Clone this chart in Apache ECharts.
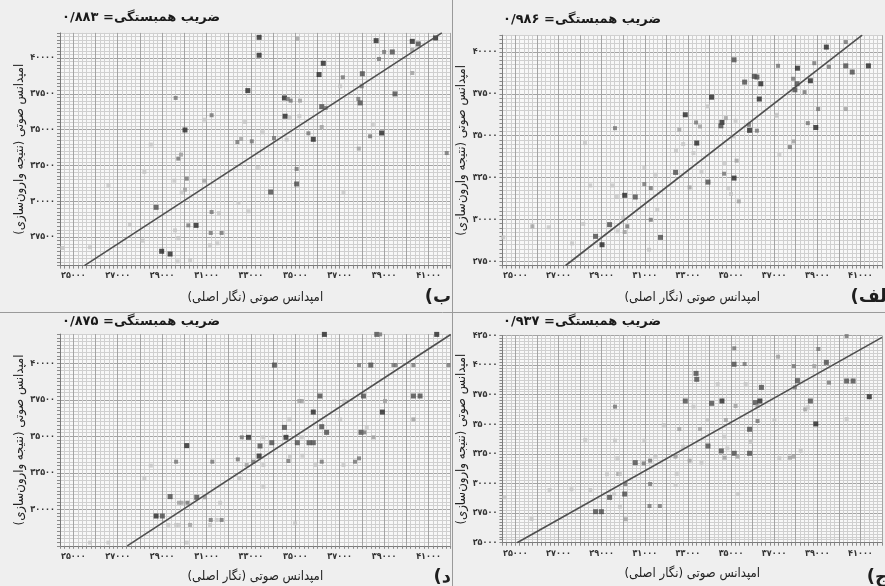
<!DOCTYPE html>
<html><head><meta charset="utf-8">
<script src="https://cdn.jsdelivr.net/npm/echarts@6/dist/echarts.min.js"></script>
<style>html,body{margin:0;padding:0;background:#efefef}#c{width:885px;height:586px}</style>
</head><body><div id="c"></div>
<script>
// ---- data ----
const xLabelValues = [25000, 27000, 29000, 31000, 33000, 35000, 37000, 39000, 41000];
const yLabelsB = [27500, 30000, 32500, 35000, 37500, 40000];
const yLabelsAlef = [27500, 30000, 32500, 35000, 37500, 40000];
const yLabelsDal = [30000, 32500, 35000, 37500, 40000];
const yLabelsJim = [25000, 27500, 30000, 32500, 35000, 37500, 40000, 42500];
const corrB = '۰/۸۸۳', corrAlef = '۰/۹۸۶', corrDal = '۰/۸۷۵', corrJim = '۰/۹۳۷';
const panelLabels = ['ب)', 'الف)', 'د)', 'ج)'];
// [x, y, shade 0=dark .. 4=light]
const pointsB = [[33370,41440,0],[35090,41350,3],[38640,41210,0],[40270,41160,0],[40540,40980,1],[41320,41400,0],
[33370,40190,0],[39000,40420,2],[39370,40420,1],[40270,40560,3],[38770,39930,2],[36260,39630,0],
[36070,38840,0],[37140,38650,2],[38020,38900,1],[40270,38950,3],[32860,37720,0],[37020,38020,4],
[37990,38020,2],[39490,37490,1],[37840,37140,2],[37920,36860,1],[34510,37210,0],[34660,37140,2],
[34790,37020,2],[35210,37020,3],[29610,37210,2],[36190,36600,1],[36370,36510,2],[31230,36000,2],
[34540,35930,0],[34760,35860,4],[35180,35930,4],[32740,35530,4],[30930,35690,4],[28490,33950,4],
[30030,34970,0],[32390,34130,2],[32560,34340,3],[33040,34180,2],[33520,34810,4],[34040,34410,2],
[34610,34300,4],[35590,34740,2],[35810,34320,0],[36190,35180,3],[38370,34530,2],[38890,34760,0],
[38490,35340,4],[37860,33670,3],[41820,33360,2],[29730,32970,2],[29850,33250,3],[28200,32040,4],
[26580,31110,4],[29550,31430,4],[30110,31570,2],[30030,30800,3],[29880,30620,4],[30900,31430,3],
[35060,32250,2],[35060,31200,1],[33890,30640,1],[33310,32320,4],[37170,30620,4],[28730,29570,1],
[31230,29240,2],[31560,29170,4],[32440,29870,4],[32890,29290,4],[30180,28310,2],[30530,28310,0],
[27550,28360,4],[29580,27960,4],[31190,27780,2],[31680,27780,2],[29730,27430,4],[31160,26920,4],
[31490,27060,4],[28980,26500,0],[29360,26310,0],[30260,25890,4],[29700,25800,4],[25750,26780,4],
[24500,26730,4],[28110,27240,4]];
const pointsAlef = [[39420,40290,0],[40320,40590,2],[35140,39530,1],[37180,39170,2],[38080,39030,0],[38860,39330,2],
[39540,39110,2],[40320,39170,1],[40620,38800,1],[41370,39170,0],[35630,38200,1],[36080,38540,1],
[36200,38500,1],[36380,38100,0],[37880,38400,2],[38060,38100,1],[37960,37740,1],[38680,38280,0],
[38410,37600,2],[34100,37300,0],[36310,37190,0],[39040,36590,2],[40320,36590,3],[32880,36250,0],
[33930,36750,4],[37090,36190,4],[38560,35750,2],[38930,35490,0],[34760,36050,3],[34580,35790,0],
[34530,35590,1],[35210,35890,4],[35830,35650,2],[35860,35320,0],[36200,35300,2],[33380,35790,2],
[33560,35550,3],[32600,35360,3],[29620,35450,2],[33410,34560,0],[35110,34960,4],[37730,34320,2],
[37910,34660,3],[28230,34560,4],[32780,34500,4],[32450,34100,4],[33260,33960,4],[37240,33860,4],
[32430,32810,1],[33630,32830,4],[34680,32730,2],[35140,32470,0],[35260,33510,3],[34700,33370,4],
[33930,32230,1],[30980,32110,2],[31280,31870,2],[33080,31910,3],[31500,32670,4],[28470,32030,4],
[29500,32030,4],[30980,33070,4],[30070,31440,0],[30560,31340,1],[29700,31340,4],[34880,31870,4],
[35000,31520,4],[35360,31080,3],[31580,30580,4],[31280,29980,2],[31730,28930,1],[31200,28190,4],
[29370,29690,1],[30190,29590,2],[30070,29250,3],[29740,29290,4],[30000,30080,4],[28720,28990,1],
[29020,28490,0],[25790,29590,3],[26550,29530,4],[27630,28570,4],[24440,28930,4],[28150,29730,4],
[37130,36250,4]];
const pointsDal = [[36310,41980,0],[38670,41980,1],[38820,41980,2],[41370,41980,0],[34060,39880,1],[37870,39880,2],
[38400,39880,1],[39420,39880,2],[39520,39880,2],[40320,39880,2],[41900,39880,2],[36110,37760,1],
[35180,37420,3],[35290,37420,3],[37210,37420,4],[38070,37760,1],[39040,37420,3],[40320,37760,1],
[40620,37760,1],[35810,36660,0],[34730,36160,4],[37020,36160,4],[38920,36660,0],[40320,36160,3],
[34510,35610,1],[36190,35660,1],[36410,35270,1],[37960,35270,1],[38110,35270,2],[38220,35610,4],
[38520,34930,3],[32590,34930,2],[32890,34930,0],[33560,34930,4],[33940,34560,1],[33410,34340,1],
[34580,34930,0],[35090,34560,1],[35620,34560,1],[35810,34560,1],[35290,34930,4],[30110,34360,0],
[33370,33650,0],[32410,33420,2],[33110,33260,2],[32810,33030,3],[33560,33030,4],[34690,33310,2],
[34760,33610,4],[35320,33670,4],[35920,33030,4],[36190,33260,2],[37170,33030,4],[37690,33260,2],
[37870,33490,2],[29630,33260,2],[28490,32990,4],[31260,33260,2],[28200,32120,4],[32480,32120,4],
[29360,30870,1],[29760,30450,3],[29880,30450,3],[30140,30450,2],[30560,30820,1],[30930,30820,3],
[31610,30450,4],[28730,29540,0],[29010,29540,1],[29280,28930,4],[29630,28930,4],[29760,28930,4],
[30260,28930,3],[31190,29270,2],[31460,29270,4],[31680,29270,2],[31160,28930,4],[25750,27720,4],
[26580,27720,4],[30110,27720,4],[34990,29040,4],[33560,31550,4]];
const pointsJim = [[40360,42450,2],[35150,41420,2],[39050,41360,2],[37180,40710,3],[35140,40070,1],[35630,40090,2],
[37910,39920,2],[38860,39920,3],[39420,40230,1],[33380,39300,1],[33410,38800,1],[38080,38690,1],
[37960,38120,2],[39540,38520,2],[40360,38660,1],[40660,38660,1],[34380,38400,4],[35680,38400,4],
[36410,38120,1],[32880,36970,1],[34100,36770,1],[34580,36970,0],[35210,36550,3],[33260,36490,4],
[36130,36830,1],[36340,36970,0],[36230,36550,3],[38680,36970,1],[38440,36260,3],[38560,36430,4],
[41410,37330,0],[29620,36490,2],[34760,35360,3],[37010,35360,4],[38930,35030,0],[40360,35450,4],
[36230,35280,2],[35860,34580,1],[32600,34600,3],[33560,34600,3],[31880,34940,4],[33900,35360,4],
[34680,33960,4],[35930,33530,4],[33930,33170,1],[34550,32750,1],[34700,32180,3],[34830,32970,4],
[35150,32550,1],[35300,32270,3],[35860,32550,1],[35900,33530,4],[37730,32180,3],[37910,32270,3],
[38230,32770,4],[37240,32130,4],[32780,33110,4],[32450,32320,4],[33080,31930,3],[33630,31760,4],
[28240,33680,4],[29620,33620,4],[29730,32130,4],[30980,33620,4],[30560,31760,1],[30950,31700,2],
[31250,31930,2],[31500,32270,4],[32420,32270,3],[29250,30780,4],[29770,30800,3],[29850,30800,4],
[30100,29960,2],[31250,29960,2],[32480,30800,4],[32430,29870,4],[29370,28830,1],[30070,29110,1],
[29580,29110,4],[29850,28040,4],[35330,29110,4],[31220,28100,2],[31700,28100,2],[28720,27620,1],
[28990,27620,1],[30120,26980,3],[26590,29450,4],[27600,29510,4],[28470,29450,4],[25750,27000,4],
[24490,28830,4]];
const lineB = [[25500,25500],[41600,41750]];
const lineAlef = [[27330,27250],[41080,41000]];
const lineDal = [[27430,27500],[42000,41970]];
const lineJim = [[25080,25000],[42000,42340]];

// ---- presentation ----
const FONT = '"DejaVu Sans Condensed", "DejaVu Sans"';
const TFONT = '"DejaVu Sans"';
const RLM = '\u200F';
const fa = v => String(Math.round(v)).replace(/\d/g, d => '۰۱۲۳۴۵۶۷۸۹'[+d]);
const MINOR = '#d0d0d0', MAJOR = '#a4a4a4';
const shades = ['#242424', '#4a4a4a', '#727272', '#9c9c9c', '#c4c4c4'];
function cycle(min, step, major) {
  const n = Math.round(major / step), arr = [];
  for (let i = 0; i < n; i++) { const v = min + i * step; arr.push((((v % major) + major) % major) === 0 ? MAJOR : MINOR); }
  return arr;
}
const panels = [
  {grid:{left:60, top:32.9, width:390.7, height:232.7}, ymin:25500, ymax:41750, yl:yLabelsB, pts:pointsB, line:lineB, corr:corrB, lab:panelLabels[0], labX:451, labY:297, tX:62, tY:11},
  {grid:{left:502.4, top:35.2, width:390.7, height:230.3}, ymin:27250, ymax:41000, yl:yLabelsAlef, pts:pointsAlef, line:lineAlef, corr:corrAlef, lab:panelLabels[1], labX:893, labY:297, tX:503, tY:13},
  {grid:{left:60, top:334.1, width:390.7, height:211.7}, ymin:27500, ymax:42000, yl:yLabelsDal, pts:pointsDal, line:lineDal, corr:corrDal, lab:panelLabels[2], labX:451, labY:577, tX:62, tY:315},
  {grid:{left:502.4, top:335.5, width:390.7, height:207.2}, ymin:25000, ymax:42500, yl:yLabelsJim, pts:pointsJim, line:lineJim, corr:corrJim, lab:panelLabels[3], labX:888, labY:577, tX:503, tY:315}
];
const XMIN = 24400, XMAX = 42000, XSTEP = 200, YSTEP = 250;
const option = {
  backgroundColor: '#efefef',
  animation: false,
  title: panels.map(p => ({
    text: 'ضریب همبستگی= ' + p.corr, left: p.tX, top: p.tY, padding: 0,
    textStyle: {fontFamily: TFONT, fontWeight: 'bold', fontSize: 13, color: '#1a1a1a'}
  })),
  grid: panels.map(p => Object.assign({show: true, backgroundColor: '#f8f8f8', borderWidth: 0}, p.grid)),
  xAxis: panels.map((p, i) => ({
    gridIndex: i, type: 'value', min: XMIN, max: XMAX, interval: XSTEP,
    axisLine: {show: true, onZero: false, lineStyle: {color: '#7a7a7a', width: 1}},
    axisTick: {show: true, length: 3, lineStyle: {color: '#8a8a8a'}},
    axisLabel: {margin: 6, fontSize: 9, fontWeight: 'bold', fontFamily: FONT, color: '#333',
      formatter: v => xLabelValues.includes(Math.round(v)) ? fa(v) : ''},
    splitLine: {show: true, lineStyle: {color: cycle(XMIN, XSTEP, 1000), width: 1}},
    name: 'امپدانس صوتی (نگار اصلی)' + RLM, nameLocation: 'middle', nameGap: i < 2 ? 26 : 24,
    nameTextStyle: {fontFamily: FONT, fontSize: 13, color: '#222'}
  })),
  yAxis: panels.map((p, i) => ({
    gridIndex: i, type: 'value', min: p.ymin, max: p.ymax, interval: YSTEP,
    axisLine: {show: true, onZero: false, lineStyle: {color: '#7a7a7a', width: 1}},
    axisTick: {show: true, length: 3, lineStyle: {color: '#8a8a8a'}},
    axisLabel: {margin: 5, fontSize: 9, fontWeight: 'bold', fontFamily: FONT, color: '#333',
      formatter: v => p.yl.includes(Math.round(v)) ? fa(v) : ''},
    splitLine: {show: true, lineStyle: {color: cycle(p.ymin, YSTEP, 2500), width: 1}},
    name: 'امپدانس صوتی (نتیجه وارون‌سازی)' + RLM, nameLocation: 'middle', nameGap: 34,
    nameTextStyle: {fontFamily: FONT, fontSize: 13, color: '#222'}
  })),
  series: panels.flatMap((p, i) => [
    {type: 'scatter', xAxisIndex: i, yAxisIndex: i, data: p.pts, symbol: 'rect',
      symbolSize: d => d[2] <= 1 ? 5 : 4,
      itemStyle: {color: prm => shades[prm.data[2]]}},
    {type: 'line', xAxisIndex: i, yAxisIndex: i, data: p.line, symbol: 'none', clip: true,
      lineStyle: {color: '#4f4f4f', width: 1.6}, z: 5}
  ]),
  graphic: [
    {type: 'line', shape: {x1: 452.5, y1: 0, x2: 452.5, y2: 586}, style: {stroke: '#9a9a9a', lineWidth: 1}},
    {type: 'line', shape: {x1: 0, y1: 312.5, x2: 885, y2: 312.5}, style: {stroke: '#9a9a9a', lineWidth: 1}}
  ].concat(panels.map(p => ({
    type: 'text', x: p.labX, y: p.labY,
    style: {text: RLM + p.lab + RLM, align: 'right', verticalAlign: 'middle', fontSize: 18, fontWeight: 'bold', fontFamily: TFONT, fill: '#1e1e1e'}
  })))
};
const chart = echarts.init(document.getElementById('c'), null, {renderer: 'canvas'});
chart.setOption(option);
</script></body></html>
